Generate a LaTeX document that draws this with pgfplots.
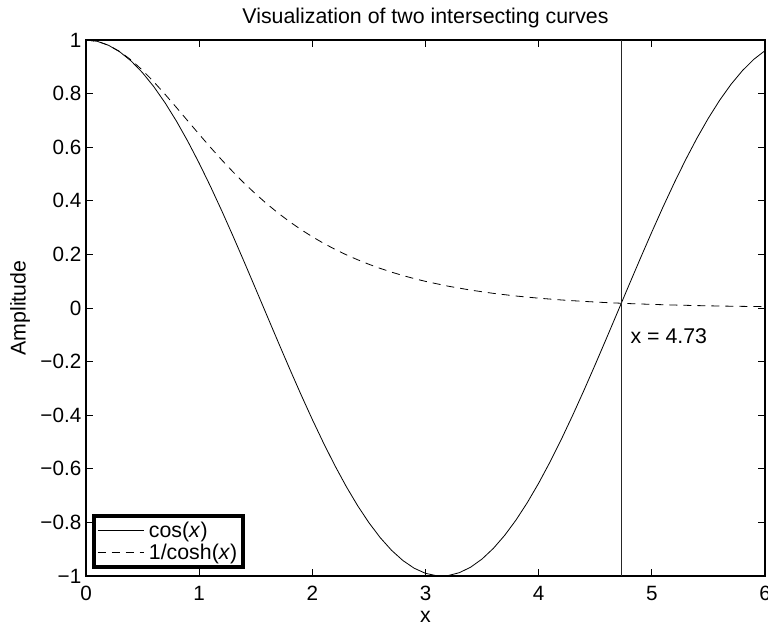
\documentclass[border=0pt]{standalone}
\usepackage{fontspec}
\setmainfont{Liberation Sans}
\usepackage{pgfplots}
\pgfplotsset{compat=1.18}
\begin{document}
\begin{tikzpicture}
\begin{axis}[
  scale only axis,
  width=509.25pt, height=402pt,
  xmin=0, xmax=6, ymin=-1, ymax=1,
  xtick={0,1,2,3,4,5,6},
  ytick={-1,-0.8,-0.6,-0.4,-0.2,0,0.2,0.4,0.6,0.8,1},
  yticklabels={−1,−0.8,−0.6,−0.4,−0.2,0,0.2,0.4,0.6,0.8,1},
  /pgf/number format/assume math mode=true,
  tick align=inside,
  tick pos=both,
  major tick length=5pt,
  axis line style={line width=0.9pt},
  every tick/.style={line width=0.6pt, black},
  tick label style={font=\fontsize{15.5pt}{18pt}\selectfont},
  xticklabel style={yshift=-4pt},
  every axis title shift=0pt,
  title={Visualization of two intersecting curves},
  title style={at={(axis description cs:0.5,1)},anchor=base,yshift=12pt,font=\fontsize{16pt}{19pt}\selectfont},
  xlabel={x},
  xlabel style={at={(axis description cs:0.5,0)},anchor=north,inner sep=0pt,yshift=-26.5pt,font=\fontsize{16pt}{19pt}\selectfont},
  ylabel={Amplitude},
  ylabel style={at={(axis description cs:0,0.5)},anchor=center,yshift=49.5pt,font=\fontsize{16pt}{19pt}\selectfont},
  legend style={at={(axis description cs:0.0088,0.013)},anchor=south west,draw=black,line width=3pt,
    font=\fontsize{16pt}{19pt}\selectfont,inner sep=2.5pt,row sep=0.5pt,column sep=1.5pt,
    nodes={inner sep=1.6pt}},
  legend cell align=left,
  legend image code/.code={\draw[#1,line width=0.6pt] (0pt,0pt) -- (35pt,0pt);},
]
\addplot[black, line width=0.6pt] coordinates {
(0,1) (0.1,0.9950) (0.2,0.9801) (0.3,0.9553) (0.4,0.9211) (0.5,0.8776)
(0.6,0.8253) (0.7,0.7648) (0.8,0.6967) (0.9,0.6216) (1.0,0.5403)
(1.1,0.4536) (1.2,0.3624) (1.3,0.2675) (1.4,0.1700) (1.5,0.0707)
(1.6,-0.0292) (1.7,-0.1288) (1.8,-0.2272) (1.9,-0.3233) (2.0,-0.4161)
(2.1,-0.5048) (2.2,-0.5885) (2.3,-0.6663) (2.4,-0.7374) (2.5,-0.8011)
(2.6,-0.8569) (2.7,-0.9041) (2.8,-0.9422) (2.9,-0.9710) (3.0,-0.9900)
(3.1,-0.9991) (3.1416,-1.0) (3.2,-0.9983) (3.3,-0.9875) (3.4,-0.9668) (3.5,-0.9365)
(3.6,-0.8968) (3.7,-0.8481) (3.8,-0.7910) (3.9,-0.7259) (4.0,-0.6536)
(4.1,-0.5748) (4.2,-0.4903) (4.3,-0.4008) (4.4,-0.3073) (4.5,-0.2108)
(4.6,-0.1122) (4.7,-0.0124) (4.8,0.0875) (4.9,0.1865) (5.0,0.2837)
(5.1,0.3780) (5.2,0.4685) (5.3,0.5544) (5.4,0.6347) (5.5,0.7087)
(5.6,0.7756) (5.7,0.8347) (5.8,0.8855) (5.9,0.9275) (6.0,0.9602)
};
\addlegendentry{cos(\textit{x})}
\addplot[black, line width=0.6pt, dash pattern=on 6pt off 4.5pt] coordinates {
(0,1) (0.1,0.9950) (0.2,0.9803) (0.3,0.9566) (0.4,0.9250) (0.5,0.8868)
(0.6,0.8436) (0.7,0.7967) (0.8,0.7477) (0.9,0.6978) (1.0,0.6481)
(1.1,0.5993) (1.2,0.5523) (1.3,0.5074) (1.4,0.4649) (1.5,0.4251)
(1.6,0.3880) (1.7,0.3536) (1.8,0.3218) (1.9,0.2926) (2.0,0.2658)
(2.1,0.2413) (2.2,0.2189) (2.3,0.1985) (2.4,0.1800) (2.5,0.1631)
(2.6,0.1477) (2.7,0.1338) (2.8,0.1212) (2.9,0.1097) (3.0,0.0993)
(3.2,0.0814) (3.4,0.0667) (3.6,0.0546) (3.8,0.0447) (4.0,0.0366)
(4.2,0.0300) (4.4,0.0246) (4.6,0.0201) (4.8,0.0165) (5.0,0.0135)
(5.2,0.0110) (5.4,0.0090) (5.6,0.0074) (5.8,0.0061) (6.0,0.0050)
};
\addlegendentry{1/cosh(\textit{x})}
\addplot[black!85, line width=0.75pt, forget plot] coordinates {(4.73,-1) (4.73,1)};
\node[anchor=west, font=\fontsize{16pt}{19pt}\selectfont, inner sep=0pt] at (axis cs:4.81,-0.106) {x = 4.73};
\end{axis}
\pgfresetboundingbox
\path[use as bounding box] ([xshift=-64.5pt,yshift=-36pt]current axis.south west) rectangle ([xshift=2.25pt,yshift=30pt]current axis.north east);
\end{tikzpicture}
\end{document}
